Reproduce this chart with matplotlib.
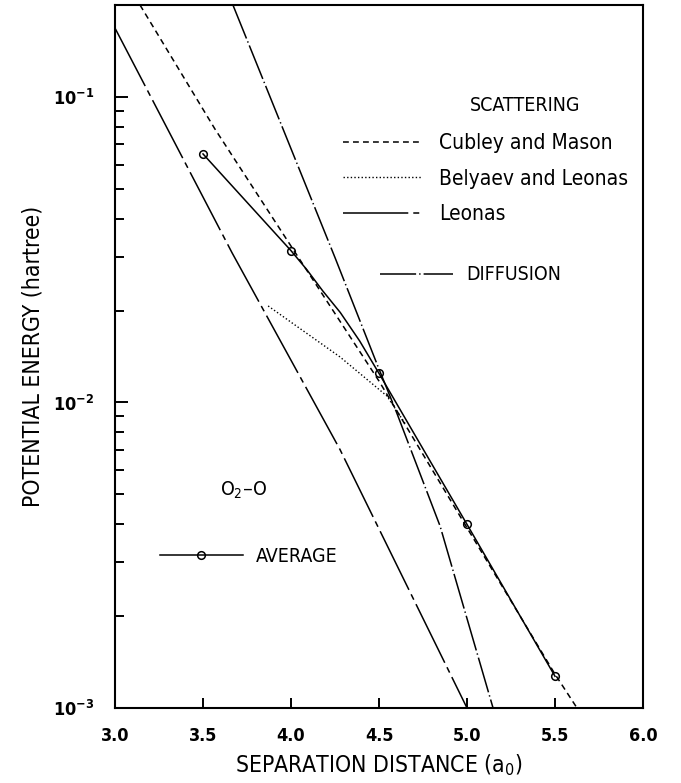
import matplotlib
matplotlib.use("Agg")
import matplotlib.pyplot as plt
from matplotlib.lines import Line2D
from matplotlib.ticker import LogLocator, FuncFormatter, NullFormatter, FormatStrFormatter
import numpy as np

plt.rcParams["font.family"] = ["DejaVu Sans"]
plt.rcParams["font.stretch"] = "condensed"
plt.rcParams["mathtext.fontset"] = "dejavusans"
plt.rcParams["lines.scale_dashes"] = False

# values (separation in a0, energy in hartree)
avg_r = [3.5, 4.0, 4.09, 4.18, 4.28, 4.39, 4.5, 5.0, 5.5]
avg_e = [0.0651, 0.0314, 0.0272, 0.0232, 0.0197, 0.0159, 0.01245, 0.00399, 0.00127]
avg_marked = [0, 1, 6, 7, 8]

cubley_r = [3.142, 3.568, 4.0, 4.5, 5.0, 5.5, 5.625]
cubley_e = [0.2, 0.0785, 0.0325, 0.01175, 0.00389, 0.00129, 0.001]

belyaev_r = [3.87, 4.278, 4.545, 4.65]
belyaev_e = [0.0207, 0.0141, 0.0105, 0.0085]

leonas_r = [3.0, 3.665, 4.278, 5.0]
leonas_e = [0.168, 0.0309, 0.00702, 0.001]

diffusion_r = [3.67, 4.25, 4.494, 4.60, 4.847, 5.148]
diffusion_e = [0.2, 0.0298, 0.01312, 0.00927, 0.00394, 0.001]

x_ticks = [3.0, 3.5, 4.0, 4.5, 5.0, 5.5, 6.0]

STYLES = {
    "cubley": dict(color="black", lw=1.1, dashes=(4.2, 3.0)),
    "belyaev": dict(color="black", lw=1.0, dashes=(1.0, 1.6)),
    "leonas": dict(color="black", lw=1.1, dashes=(47.0, 3.6, 4.3, 3.6)),
    "diffusion": dict(color="black", lw=1.1, dashes=(26.0, 2.2, 1.0, 2.2)),
    "average": dict(color="black", lw=1.1, marker="o", ms=5.5, mfc="none", mew=1.1),
}


def _decade(v, pos):
    return r"$\mathbf{10^{%d}}$" % int(round(np.log10(v)))


fig = plt.figure(figsize=(6.81, 7.83), dpi=100)
ax = fig.add_axes([0.1689, 0.0958, 0.7753, 0.8978])

ax.plot(cubley_r, cubley_e, **STYLES["cubley"])
ax.plot(belyaev_r, belyaev_e, **STYLES["belyaev"])
ax.plot(leonas_r, leonas_e, **STYLES["leonas"])
ax.plot(diffusion_r, diffusion_e, **STYLES["diffusion"])
ax.plot(avg_r, avg_e, markevery=avg_marked, **STYLES["average"])

ax.set_yscale("log")
ax.set_xlim(3.0, 6.0)
ax.set_ylim(1e-3, 0.2)
ax.set_xticks(x_ticks)
ax.xaxis.set_major_formatter(FormatStrFormatter("%.1f"))
ax.yaxis.set_major_locator(LogLocator(base=10))
ax.yaxis.set_major_formatter(FuncFormatter(_decade))
ax.yaxis.set_minor_locator(LogLocator(base=10, subs=range(2, 10)))
ax.yaxis.set_minor_formatter(NullFormatter())

for s in ax.spines.values():
    s.set_linewidth(1.5)
ax.tick_params(axis="both", which="both", direction="in", width=1.4,
               top=False, right=False, labelsize=13)
ax.tick_params(axis="x", which="major", length=7, pad=14)
ax.tick_params(axis="y", which="major", length=9.4, pad=15)
ax.tick_params(axis="y", which="minor", length=6.5)
for lab in ax.get_xticklabels():
    lab.set_fontweight("bold")

ax.set_xlabel("SEPARATION DISTANCE (a$_0$)", fontsize=16.5, labelpad=5)
ax.set_ylabel("POTENTIAL ENERGY (hartree)", fontsize=16.5, labelpad=6)

# legends
scat_handles = [Line2D([], [], **STYLES["cubley"]),
                Line2D([], [], **STYLES["belyaev"]),
                Line2D([], [], **STYLES["leonas"])]
leg1 = ax.legend(scat_handles, ["Cubley and Mason", "Belyaev and Leonas", "Leonas"],
                 loc="center left", bbox_to_anchor=(0.432, 0.753), frameon=False,
                 fontsize=15, handlelength=3.8, handletextpad=0.8,
                 labelspacing=0.75, borderpad=0, borderaxespad=0)
ax.add_artist(leg1)
ax.text(0.776, 0.857, "SCATTERING", transform=ax.transAxes, ha="center", va="center", fontsize=14)

leg2 = ax.legend([Line2D([], [], **STYLES["diffusion"])], ["DIFFUSION"],
                 loc="center left", bbox_to_anchor=(0.502, 0.616), frameon=False,
                 fontsize=14, handlelength=3.75, handletextpad=0.67,
                 borderpad=0, borderaxespad=0)
ax.add_artist(leg2)

ax.legend([Line2D([], [], **STYLES["average"])], ["AVERAGE"], numpoints=1,
          loc="center left", bbox_to_anchor=(0.085, 0.216), frameon=False,
          fontsize=14, handlelength=4.25, handletextpad=0.67,
          borderpad=0, borderaxespad=0)

ax.text(0.199, 0.309, "O$_2$\u2013O", transform=ax.transAxes, ha="left", va="center", fontsize=14)

fig.savefig("out.png", dpi=100)
